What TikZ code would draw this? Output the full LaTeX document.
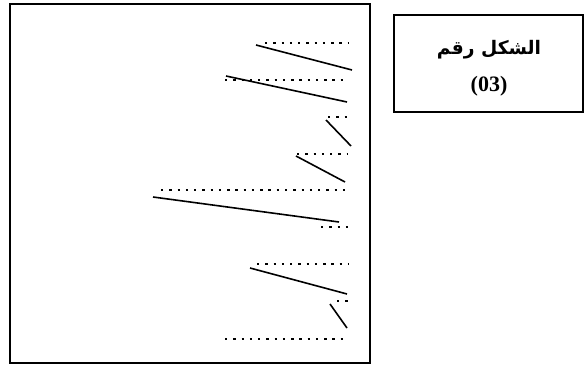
\documentclass[tikz,border=0pt]{standalone}
\usepackage{fontspec}
\setmainfont{Liberation Serif}
\newfontfamily\arabicfont[Script=Arabic]{DejaVu Sans}
\TeXXeTstate=1
\begin{document}
\begin{tikzpicture}[
        x=0.75pt, y=-0.75pt,
        frame/.style={draw=black, line width=1.5pt},
        stroke/.style={draw=black, line width=1.2pt},
        dots/.style={draw=black, line width=1.8pt, dash pattern=on 1.8pt off 4.4pt},
        caption/.style={align=center, inner sep=0pt, font=\bfseries}
    ]
        \useasboundingbox (0,0) rectangle (584,367);
        \draw[frame] (10,4) rectangle (370,363);
        \draw[frame] (394,15) rectangle (583,112);
        \node[caption] (title) at (489,50) {\fontsize{14}{17}\selectfont\arabicfont\beginR الشكل رقم\endR};
        \node[caption] (number) at (489,86) {\fontsize{16.5}{20}\selectfont(03)};

        \draw[dots] (265,43) -- (348,43);
        \draw[stroke] (256,45) -- (352,70);
        \draw[dots] (225,80) -- (348,80);
        \draw[stroke] (226,76) -- (347,102);
        \draw[dots] (328,117) -- (348,117);
        \draw[stroke] (326,120) -- (351,146);
        \draw[dots] (297,154) -- (348,154);
        \draw[stroke] (296,156) -- (345,182);
        \draw[dots] (161,190) -- (348,190);
        \draw[stroke] (153,197) -- (339,222);
        \draw[dots] (321,227) -- (348,227);
        \draw[dots] (257,264) -- (348,264);
        \draw[stroke] (250,268) -- (347,294);
        \draw[dots] (337,301) -- (348,301);
        \draw[stroke] (330,304) -- (347,328);
        \draw[dots] (225,339) -- (348,339);
    \end{tikzpicture}
\end{document}
